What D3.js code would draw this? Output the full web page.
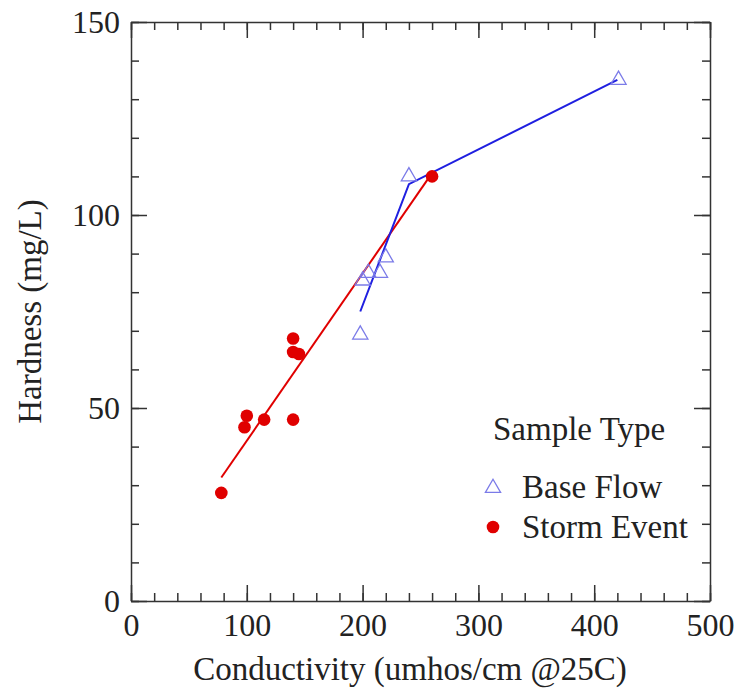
<!DOCTYPE html>
<html>
<head>
<meta charset="utf-8">
<script src="https://cdn.jsdelivr.net/npm/d3@7"></script>
<style>
  body { margin: 0; background: #fff; }
  svg text { font-family: "Liberation Serif", "DejaVu Serif", serif; fill: #222; }
</style>
</head>
<body>
<div id="chart"></div>
<script>
// base flow samples
var baseCond = [198, 200, 205, 215, 220, 240, 421];
var baseHard = [69, 83, 85, 85, 89, 110, 135];
// storm event samples
var stormCond = [78, 98, 100, 115, 140, 140, 140, 145, 260];
var stormHard = [28, 45, 48, 47, 47, 68, 64.5, 64, 110];
// fitted lines
var baseFitCond = [198, 240, 420];
var baseFitHard = [75, 108, 135];
var stormFitCond = [78, 258];
var stormFitHard = [32, 110];

var xTicks = [0, 100, 200, 300, 400, 500];
var yTicks = [0, 50, 100, 150];

var width = 735, height = 690;
var pLeft = 131, pTop = 22, pRight = 710, pBottom = 601;

var svg = d3.select("#chart").append("svg")
  .attr("width", width)
  .attr("height", height);

var x = d3.scaleLinear().domain([0, 500]).range([pLeft, pRight]);
var y = d3.scaleLinear().domain([0, 150]).range([pBottom, pTop]);

var axisColor = "#333";
var tickFont = "32px";
var titleFont = "33px";

function styleAxis(g) {
  g.selectAll("path").attr("stroke", axisColor).attr("stroke-width", 1.5);
  g.selectAll("line").attr("stroke", axisColor).attr("stroke-width", 1.5);
  g.selectAll("text").style("font-size", tickFont);
}

var minorX = d3.range(0, 501, 20);
var minorY = d3.range(0, 151, 10);

// bottom
var gb = svg.append("g").attr("transform", "translate(0," + pBottom + ")")
  .call(d3.axisBottom(x).tickValues(minorX).tickSize(-8).tickSizeOuter(0).tickFormat(""));
styleAxis(gb);
var gb2 = svg.append("g").attr("transform", "translate(0," + pBottom + ")")
  .call(d3.axisBottom(x).tickValues(xTicks).tickSizeInner(-16).tickSizeOuter(0).tickFormat(d3.format("d")));
styleAxis(gb2);
gb2.select("path").remove();
gb2.selectAll("text").attr("y", 12);

// top
var gt = svg.append("g").attr("transform", "translate(0," + pTop + ")")
  .call(d3.axisTop(x).tickValues(minorX).tickSize(-8).tickSizeOuter(0).tickFormat(""));
styleAxis(gt);
var gt2 = svg.append("g").attr("transform", "translate(0," + pTop + ")")
  .call(d3.axisTop(x).tickValues(xTicks).tickSize(-16).tickFormat(""));
styleAxis(gt2);
gt2.select("path").remove();

// left
var gl = svg.append("g").attr("transform", "translate(" + pLeft + ",0)")
  .call(d3.axisLeft(y).tickValues(minorY).tickSize(-8).tickSizeOuter(0).tickFormat(""));
styleAxis(gl);
var gl2 = svg.append("g").attr("transform", "translate(" + pLeft + ",0)")
  .call(d3.axisLeft(y).tickValues(yTicks).tickSizeInner(-16).tickSizeOuter(0).tickFormat(d3.format("d")));
styleAxis(gl2);
gl2.select("path").remove();
gl2.selectAll("text").attr("x", -11);

// right
var gr = svg.append("g").attr("transform", "translate(" + pRight + ",0)")
  .call(d3.axisRight(y).tickValues(minorY).tickSize(-8).tickSizeOuter(0).tickFormat(""));
styleAxis(gr);
var gr2 = svg.append("g").attr("transform", "translate(" + pRight + ",0)")
  .call(d3.axisRight(y).tickValues(yTicks).tickSize(-16).tickFormat(""));
styleAxis(gr2);
gr2.select("path").remove();

// axis titles
svg.append("text")
  .attr("x", 410)
  .attr("y", 680)
  .attr("text-anchor", "middle")
  .style("font-size", titleFont)
  .text("Conductivity (umhos/cm @25C)");

svg.append("text")
  .attr("transform", "translate(41," + (pTop + pBottom) / 2 + ") rotate(-90)")
  .attr("text-anchor", "middle")
  .style("font-size", titleFont)
  .text("Hardness (mg/L)");

var line = d3.line().x(function(d){ return x(d[0]); }).y(function(d){ return y(d[1]); });

var blue = "#1f1fe0", red = "#e00000", triColor = "#7b7be8";

// fit lines
svg.append("path")
  .datum(stormFitCond.map(function(c, i){ return [c, stormFitHard[i]]; }))
  .attr("d", line)
  .attr("fill", "none")
  .attr("stroke", red)
  .attr("stroke-width", 2);

svg.append("path")
  .datum(baseFitCond.map(function(c, i){ return [c, baseFitHard[i]]; }))
  .attr("d", line)
  .attr("fill", "none")
  .attr("stroke", blue)
  .attr("stroke-width", 2);

var tri = d3.symbol().type(d3.symbolTriangle).size(100);

svg.selectAll(".base")
  .data(baseCond.map(function(c, i){ return [c, baseHard[i]]; }))
  .enter()
  .append("path")
  .attr("class", "base")
  .attr("d", tri)
  .attr("transform", function(d){ return "translate(" + x(d[0]) + "," + y(d[1]) + ")"; })
  .attr("fill", "none")
  .attr("stroke", triColor)
  .attr("stroke-width", 1.3);

svg.selectAll(".storm")
  .data(stormCond.map(function(c, i){ return [c, stormHard[i]]; }))
  .enter()
  .append("circle")
  .attr("class", "storm")
  .attr("cx", function(d){ return x(d[0]); })
  .attr("cy", function(d){ return y(d[1]); })
  .attr("r", 6.3)
  .attr("fill", red);

// legend
var lg = svg.append("g");
lg.append("text").attr("x", 493).attr("y", 440).style("font-size", titleFont).text("Sample Type");
lg.append("path").attr("d", tri).attr("transform", "translate(493,488)")
  .attr("fill", "none").attr("stroke", triColor).attr("stroke-width", 1.3);
lg.append("text").attr("x", 522).attr("y", 498).style("font-size", titleFont).text("Base Flow");
lg.append("circle").attr("cx", 493).attr("cy", 527).attr("r", 6.3).attr("fill", red);
lg.append("text").attr("x", 522).attr("y", 538).style("font-size", titleFont).text("Storm Event");
</script>
</body>
</html>
